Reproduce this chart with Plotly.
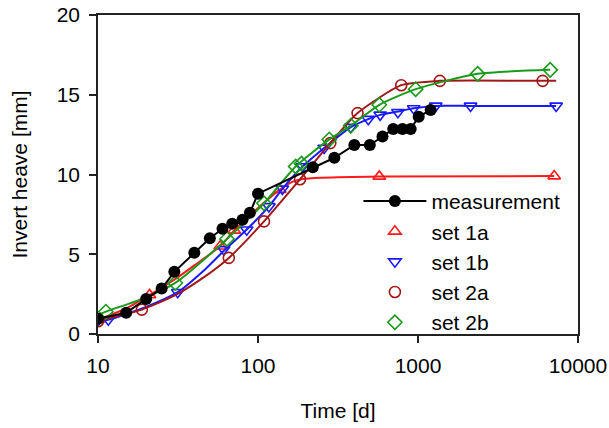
import plotly.graph_objects as go

# measurement
t_meas = [10, 15, 20, 25, 30, 40, 50, 60, 69, 80, 89, 100, 220, 300, 400, 500, 600, 700, 800, 900, 1010, 1200]
y_meas = [0.95, 1.33, 2.2, 2.85, 3.9, 5.1, 6.0, 6.6, 6.92, 7.17, 7.6, 8.8, 10.45, 11.05, 11.85, 11.85, 12.38, 12.85, 12.85, 12.85, 13.62, 14.05]

# set 1a (model curve + markers)
t_1a_line = [10, 15, 21, 30, 40, 58, 71, 100, 137, 165, 190, 250, 573, 7100]
y_1a_line = [0.9, 1.6, 2.45, 3.4, 4.3, 5.5, 6.5, 7.9, 9.05, 9.55, 9.72, 9.8, 9.88, 9.9]
t_1a = [10, 21, 58, 71, 137, 573, 7100]
y_1a = [0.9, 2.45, 5.5, 6.5, 9.05, 9.88, 9.9]

# set 1b
t_1b_line = [10, 11.6, 20, 31.5, 45, 61, 85, 117, 142, 190, 259, 380, 489, 580, 749, 940, 1290, 2130, 7300]
y_1b_line = [0.85, 0.9, 1.7, 2.62, 3.9, 5.2, 6.55, 8.0, 9.1, 10.5, 11.66, 12.97, 13.47, 13.74, 13.95, 14.15, 14.3, 14.3, 14.3]
t_1b = [10, 11.6, 31.5, 61, 85, 117, 142, 190, 259, 380, 489, 580, 749, 940, 1290, 2130, 7300]
y_1b = [0.85, 0.9, 2.62, 5.3, 6.54, 8.0, 9.1, 10.5, 11.66, 12.97, 13.47, 13.74, 13.9, 14.14, 14.3, 14.3, 14.3]

# set 2a
t_2a_line = [10, 18.8, 30, 45, 65.7, 109, 183, 283, 419, 786, 1370, 6010, 7300]
y_2a_line = [0.8, 1.53, 2.4, 3.5, 4.77, 7.06, 9.7, 11.97, 13.85, 15.6, 15.87, 15.87, 15.87]
t_2a = [10, 18.8, 65.7, 109, 183, 283, 419, 786, 1370, 6010]
y_2a = [0.8, 1.53, 4.77, 7.06, 9.7, 11.97, 13.85, 15.6, 15.87, 15.87]

# set 2b
t_2b_line = [10, 11.2, 20, 30.4, 64, 109, 172, 279, 380, 573, 967, 2360, 6700]
y_2b_line = [1.2, 1.4, 2.3, 3.2, 5.96, 8.2, 10.5, 12.2, 13.06, 14.37, 15.35, 16.31, 16.56]
t_2b = [11.2, 30.4, 64, 109, 172, 187, 279, 380, 573, 967, 2360, 6700]
y_2b = [1.4, 3.2, 5.96, 8.2, 10.5, 10.68, 12.2, 13.06, 14.37, 15.35, 16.31, 16.56]

x_ticks = [10, 100, 1000, 10000]
x_ticktext = ["10", "100", "1000", "10000"]

RED = "#ff1a1a"
BLUE = "#1a1aff"
DRED = "#a01818"
GREEN = "#1a9a1a"

fig = go.Figure()

def add_set(tl, yl, tm, ym, color, symbol, name, rank):
    fig.add_trace(go.Scatter(x=tl, y=yl, mode="lines", line=dict(color=color, width=2, shape="spline", smoothing=0.6),
                             showlegend=False, hoverinfo="skip"))
    fig.add_trace(go.Scatter(x=tm, y=ym, mode="markers", name=name, legendrank=rank,
                             marker=dict(symbol=symbol, size=11, color=color,
                                         line=dict(color=color, width=1.6))))

add_set(t_1a_line, y_1a_line, t_1a, y_1a, RED, "triangle-up-open", "set 1a", 10)
add_set(t_1b_line, y_1b_line, t_1b, y_1b, BLUE, "triangle-down-open", "set 1b", 11)
add_set(t_2a_line, y_2a_line, t_2a, y_2a, DRED, "circle-open", "set 2a", 12)
add_set(t_2b_line, y_2b_line, t_2b, y_2b, GREEN, "diamond-open", "set 2b", 13)

fig.add_trace(go.Scatter(x=t_meas, y=y_meas, mode="lines+markers", name="measurement", legendrank=1,
                         line=dict(color="black", width=2),
                         marker=dict(symbol="circle", size=12, color="black")))

font = "Liberation Sans, Arial, sans-serif"
fig.update_layout(
    width=609, height=428,
    margin=dict(l=98, r=31, t=15, b=93.5),
    paper_bgcolor="white", plot_bgcolor="white",
    font=dict(family=font, size=21, color="black"),
    showlegend=True,
    legend=dict(x=0.5425, y=0.48, xanchor="left", yanchor="top", traceorder="normal",
                bgcolor="rgba(0,0,0,0)", font=dict(size=21), itemwidth=63),
    xaxis=dict(type="log", range=[1, 4], tickvals=x_ticks, ticktext=x_ticktext,
               showline=True, linecolor="#222", linewidth=1.5, mirror=True,
               ticks="outside", ticklen=7, tickwidth=1.5, tickcolor="#222",
               ticklabelstandoff=5, automargin=False,
               showgrid=False, zeroline=False,
               title=dict(text="Time [d]", font=dict(size=21), standoff=27)),
    yaxis=dict(range=[0, 20], dtick=5,
               showline=True, linecolor="#222", linewidth=1.5, mirror=True,
               ticks="outside", ticklen=7, tickwidth=1.5, tickcolor="#222",
               ticklabelstandoff=5, automargin=False,
               showgrid=False, zeroline=False,
               title=dict(text="Invert heave [mm]", font=dict(size=21), standoff=23)),
)

fig.write_html("out.html", config={"displayModeBar": False},
               post_script="document.body.style.margin='0';")
